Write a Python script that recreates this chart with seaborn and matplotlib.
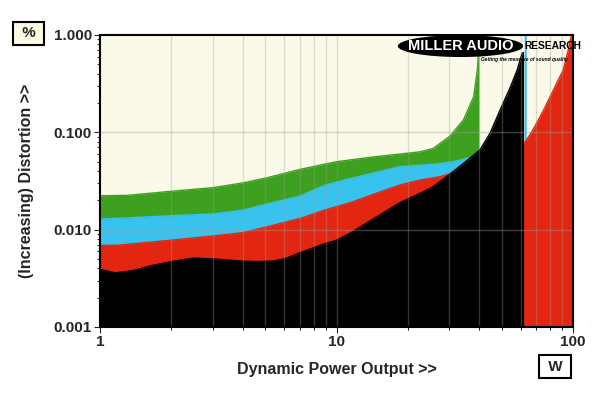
import numpy as np
import pandas as pd
import seaborn as sns
import matplotlib.pyplot as plt
from matplotlib.patches import Ellipse
from matplotlib.ticker import FixedLocator, NullFormatter

# distortion curves, % THD vs dynamic power (W)
green_w = [1.0, 1.3, 2.04, 3.0, 4.04, 5.07, 7.0, 10, 11.4, 14, 18.5, 22.5, 25.6, 30.2, 34.4, 38, 39.4, 39.7, 39.8, 40.0]
green = [0.0223, 0.0225, 0.0249, 0.027, 0.0303, 0.0341, 0.0416, 0.0499, 0.052, 0.0555, 0.0598, 0.063, 0.0682, 0.0916, 0.134, 0.232, 0.44, 0.6, 1.0, 1.0]

cyan_w = [1.0, 2.0, 3.0, 4.0, 5.0, 7.0, 8.9, 11.4, 14, 18.5, 25.6, 31.2, 35.5, 39, 45, 50, 55, 58, 61.8, 62.8, 62.9, 63.4]
cyan = [0.0128, 0.0139, 0.0145, 0.0158, 0.0182, 0.0221, 0.0285, 0.0334, 0.0377, 0.0443, 0.0468, 0.0499, 0.0541, 0.058, 0.08, 0.15, 0.25, 0.4, 0.05, 0.05, 1.0, 1.0]

red_w = [1.0, 1.18, 2.0, 3.0, 4.0, 5.0, 7.0, 8.9, 11.4, 14, 18.5, 22.5, 27.4, 31.2, 35, 40, 45, 50, 55, 58,
         61.8, 62.3, 67.7, 75.2, 82.6, 90.9, 95.5, 98.5, 99.8]
red = [0.0069, 0.0069, 0.0078, 0.0086, 0.0093, 0.0106, 0.0130, 0.0159, 0.0189, 0.0226, 0.0287, 0.0323, 0.035, 0.0385, 0.045, 0.055, 0.085, 0.15, 0.25, 0.4,
       0.077, 0.077, 0.106, 0.17, 0.272, 0.437, 0.70, 1.0, 1.0]

black_w = [1.0, 1.16, 1.38, 1.6, 2.0, 2.48, 3.0, 4.0, 4.6, 5.4, 6.15, 7.0, 8.8, 10, 11.4, 14, 18.5, 22.5, 25.6, 30.2,
           34.4, 40.4, 44.6, 49.2, 54.3, 58.1, 60.9, 61.8]
black = [0.0039, 0.0036, 0.0038, 0.0042, 0.0047, 0.0051, 0.0050, 0.00475, 0.0047, 0.00475, 0.0051, 0.0058, 0.0071, 0.0078, 0.0092, 0.0125, 0.0189, 0.0236, 0.0276, 0.0373,
         0.048, 0.066, 0.098, 0.17, 0.29, 0.44, 0.65, 0.66]

y_ticks = [0.001, 0.01, 0.1, 1.0]
y_labels = ['0.001', '0.010', '0.100', '1.000']
x_ticks = [1, 10, 100]
x_labels = ['1', '10', '100']

sns.set_style('white')
plt.rcParams['font.family'] = ['Liberation Sans', 'DejaVu Sans']

fig = plt.figure(figsize=(6, 3.93), dpi=100)
ax = fig.add_axes([0.167, 0.168, 0.788, 0.743])
ax.set_facecolor('#FBF9E8')

series = [(green_w, green, '#3DA11F'), (cyan_w, cyan, '#38C3EF'),
          (red_w, red, '#E2260F'), (black_w, black, '#000000')]
for z, (xs, ys, col) in enumerate(series, start=1):
    df = pd.DataFrame({'W': xs, 'THD': ys})
    ax.fill_between(df['W'], 1e-4, df['THD'], color=col, lw=0, zorder=z)
    sns.lineplot(data=df, x='W', y='THD', estimator=None, sort=False,
                 color=col, lw=1.0, ax=ax, zorder=z)

ax.set_xscale('log')
ax.set_yscale('log')
ax.set_xlim(1, 100)
ax.set_ylim(0.001, 1.0)

# grid sits above the fills
minor_x = [m * 10 ** d for d in range(0, 2) for m in range(2, 10)]
for xv in minor_x + [10]:
    ax.axvline(xv, color='#a0a0a0', alpha=0.33, lw=1, zorder=6)
for yv in [0.01, 0.1]:
    ax.axhline(yv, color='#a0a0a0', alpha=0.4, lw=1, zorder=6)

ax.yaxis.set_major_locator(FixedLocator(y_ticks))
ax.set_yticklabels(y_labels)
ax.xaxis.set_major_locator(FixedLocator(x_ticks))
ax.set_xticklabels(x_labels)
ax.xaxis.set_minor_formatter(NullFormatter())
ax.yaxis.set_minor_formatter(NullFormatter())
ax.tick_params(axis='both', which='major', direction='out', length=4, width=0.8,
               labelsize=11, pad=2, bottom=True, left=True)
ax.tick_params(axis='both', which='minor', direction='out', length=2.5, width=0.8,
               bottom=True, left=True)
for lab in ax.get_xticklabels() + ax.get_yticklabels():
    lab.set_fontweight('bold')

for sp in ax.spines.values():
    sp.set_color('black')
    sp.set_linewidth(1.5)
    sp.set_zorder(10)

ax.set_xlabel('Dynamic Power Output >>', fontsize=11.5, fontweight='bold', labelpad=9)
ax.set_ylabel('(Increasing) Distortion >>', fontsize=11.5, fontweight='bold', labelpad=14)

# unit boxes
fig.text(0.048, 0.915, ' % ', ha='center', va='center', fontsize=11, fontweight='bold',
         bbox=dict(boxstyle='square,pad=0.3', fc='#FBF9E0', ec='black', lw=1.5))
fig.text(0.925, 0.067, ' W ', ha='center', va='center', fontsize=11, fontweight='bold',
         bbox=dict(boxstyle='square,pad=0.3', fc='white', ec='black', lw=1.5))

# logo
ax.add_patch(Ellipse((0.762, 0.962), 0.265, 0.075, transform=ax.transAxes,
                     fc='black', ec='none', zorder=11))
ax.text(0.762, 0.962, 'MILLER AUDIO', transform=ax.transAxes, ha='center', va='center',
        color='white', fontsize=10.5, fontweight='bold', zorder=12)
ax.text(0.897, 0.962, 'RESEARCH', transform=ax.transAxes, ha='left', va='center',
        color='black', fontsize=7.4, fontweight='bold', zorder=12)
ax.text(0.99, 0.915, 'Getting the measure of sound quality', transform=ax.transAxes,
        ha='right', va='center', color='black', fontsize=3.5, fontweight='bold',
        style='italic', zorder=12)

fig.savefig('out.png', dpi=100)
